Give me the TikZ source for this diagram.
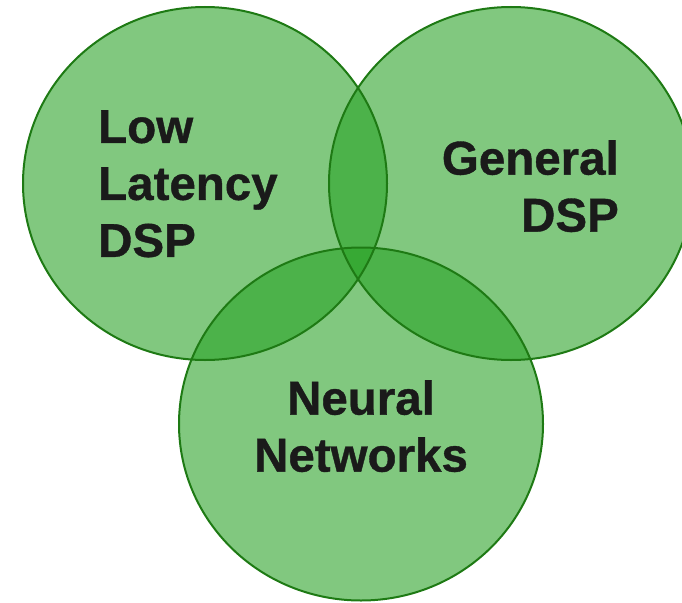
\documentclass[tikz,border=0pt]{standalone}
\usepackage{fontspec}
\setmainfont{Liberation Sans}[BoldFeatures={FakeBold=0.8}]
\definecolor{setfill}{RGB}{40,162,37}
\definecolor{setline}{RGB}{30,122,20}
\definecolor{labeltext}{RGB}{26,26,26}
\begin{document}
\begin{tikzpicture}[x=1pt,y=-1pt,
  setfillstyle/.style={fill=setfill,fill opacity=0.59},
  setlinestyle/.style={draw=setline,line width=2pt},
  setlabel/.style={inner sep=0pt,text=labeltext,font=\bfseries\fontsize{47.5}{57}\selectfont}]
\useasboundingbox (0,0) rectangle (682,602);
\clip (0,0) rectangle (682,602);
% translucent fills of the three sets
\fill[setfillstyle] (205,183.5) ellipse [x radius=182, y radius=176.5];
\fill[setfillstyle] (511,183.5) ellipse [x radius=182, y radius=176.5];
\fill[setfillstyle] (361,424) ellipse [x radius=182, y radius=176.5];
% outlines
\draw[setlinestyle] (205,183.5) ellipse [x radius=182, y radius=176.5];
\draw[setlinestyle] (511,183.5) ellipse [x radius=182, y radius=176.5];
\draw[setlinestyle] (361,424) ellipse [x radius=182, y radius=176.5];
% labels
\node[setlabel,anchor=north west,align=left] (low) at (98,110) {Low\\Latency\\DSP};
\node[setlabel,anchor=north east,align=right] (general) at (619,140) {General\\DSP};
\node[setlabel,anchor=north,align=center] (neural) at (361,380) {Neural\\Networks};
\end{tikzpicture}
\end{document}
